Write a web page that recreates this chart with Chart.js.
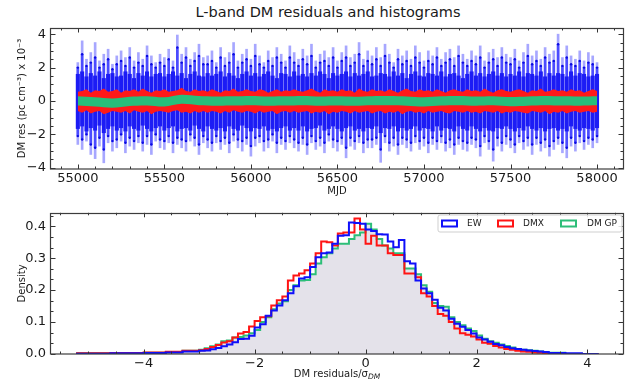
<!DOCTYPE html>
<html><head><meta charset="utf-8">
<script src="https://cdn.jsdelivr.net/npm/chart.js@4.4.0/dist/chart.umd.min.js"></script>
<style>
html,body{margin:0;padding:0;background:#fff;}
#wrap{position:relative;width:637px;height:385px;font-family:"DejaVu Sans",sans-serif;color:#1a1a1a;overflow:hidden;}
#c1{position:absolute;left:0;top:0;}
#c2{position:absolute;left:0;top:200px;}
#title{position:absolute;top:3px;left:328px;transform:translateX(-50%);font-size:14.5px;line-height:18px;white-space:nowrap;}
#xlab2{position:absolute;top:368px;left:337px;transform:translateX(-50%);font-size:10px;line-height:12px;white-space:nowrap;}
#xlab2 sub{font-size:7.5px;font-style:italic;vertical-align:-2px;line-height:0;}
</style></head>
<body><div id="wrap">
<div id="title">L-band DM residuals and histograms</div>
<canvas id="c1" width="637" height="200"></canvas>
<canvas id="c2" width="637" height="185"></canvas>
<div id="xlab2">DM residuals/σ<sub>DM</sub></div>
</div>
<script>
// ---------------- top panel data ----------------
const mjd = [55000,55025,55050,55075,55100,55125,55150,55175,55200,55225,
55250,55275,55300,55325,55350,55375,55400,55425,55450,55475,
55500,55525,55550,55575,55600,55625,55650,55675,55700,55725,
55750,55775,55800,55825,55850,55875,55900,55925,55950,55975,
56000,56025,56050,56075,56100,56125,56150,56175,56200,56225,
56250,56275,56300,56325,56350,56375,56400,56425,56450,56475,
56500,56525,56550,56575,56600,56625,56650,56675,56700,56725,
56750,56775,56800,56825,56850,56875,56900,56925,56950,56975,
57000,57025,57050,57075,57100,57125,57150,57175,57200,57225,
57250,57275,57300,57325,57350,57375,57400,57425,57450,57475,
57500,57525,57550,57575,57600,57625,57650,57675,57700,57725,
57750,57775,57800,57825,57850,57875,57900,57925,57950,57975,58000];
const errHi = [2.3,3.6,2.5,2.9,3.5,2.4,2.8,3.1,2.2,2.7,
3.0,2.6,3.2,2.4,2.9,2.5,3.3,2.7,2.3,2.8,
2.6,3.1,2.4,3.95,2.8,3.2,2.5,2.9,3.4,2.6,
2.7,3.0,2.3,3.2,2.6,2.9,3.5,2.4,2.8,3.1,
2.5,3.4,2.7,2.3,3.0,2.6,3.2,2.8,2.4,3.3,
2.9,2.5,3.1,2.7,3.4,2.4,2.8,3.0,2.6,3.2,
2.4,2.9,3.3,2.6,2.8,3.5,2.5,3.0,2.7,3.2,
2.6,3.4,2.8,2.3,3.1,2.7,3.0,2.5,3.3,2.9,
2.4,3.0,2.7,3.2,2.5,2.9,3.1,2.6,3.3,2.8,
2.5,3.0,2.7,3.3,2.4,2.9,3.1,2.6,3.2,2.8,
2.6,3.1,2.4,2.9,3.4,2.7,3.0,2.5,3.2,2.8,
3.0,4.0,2.6,3.3,2.7,2.5,3.0,2.4,2.9,2.7,2.3];
const errLo = [-2.6,-2.9,-2.4,-3.2,-3.45,-2.7,-3.7,-2.5,-3.0,-2.8,
-2.4,-3.1,-2.7,-2.9,-2.5,-3.0,-2.6,-3.2,-2.4,-2.8,
-2.9,-2.5,-3.1,-2.6,-2.8,-3.0,-2.4,-2.7,-3.2,-2.5,
-2.8,-3.0,-2.5,-2.9,-2.6,-3.1,-2.4,-2.8,-3.0,-2.6,
-3.3,-2.7,-2.5,-3.0,-2.8,-2.4,-3.1,-2.6,-2.9,-2.5,
-2.8,-3.0,-2.6,-3.2,-2.5,-2.9,-2.7,-3.1,-2.4,-2.8,
-3.0,-2.6,-3.4,-2.7,-2.9,-2.5,-3.1,-2.8,-2.8,-2.6,
-3.67,-2.5,-3.0,-2.7,-3.2,-2.6,-2.8,-3.0,-2.5,-2.9,
-2.7,-3.1,-2.6,-2.9,-2.5,-3.0,-2.8,-3.2,-2.6,-2.9,
-3.0,-2.6,-2.8,-3.3,-2.5,-2.9,-3.6,-2.7,-3.0,-2.6,
-2.8,-3.1,-2.5,-2.9,-2.7,-3.2,-2.6,-3.0,-2.8,-3.3,
-2.9,-2.6,-3.1,-3.4,-2.7,-3.0,-2.5,-2.9,-2.6,-2.8,-2.5];
const coreHi = [1.6,1.75,1.45,1.65,1.5,1.75,1.35,1.6,1.65,1.45,
1.5,1.75,1.6,1.35,1.65,1.5,1.75,1.45,1.6,1.65,
1.45,1.6,1.75,1.5,1.65,1.35,1.6,1.75,1.5,1.45,
1.65,1.5,1.6,1.75,1.45,1.65,1.5,1.35,1.6,1.75,
1.5,1.65,1.45,1.6,1.75,1.5,1.35,1.65,1.6,1.45,
1.75,1.5,1.6,1.45,1.65,1.5,1.75,1.6,1.35,1.65,
1.5,1.6,1.75,1.45,1.65,1.5,1.6,1.75,1.45,1.5,
1.65,1.6,1.45,1.75,1.5,1.65,1.35,1.6,1.75,1.5,
1.45,1.65,1.6,1.5,1.75,1.45,1.6,1.65,1.5,1.35,
1.6,1.75,1.5,1.65,1.45,1.6,1.75,1.5,1.65,1.45,
1.6,1.5,1.75,1.45,1.65,1.6,1.5,1.75,1.45,1.65,
1.5,1.65,1.6,1.45,1.75,1.5,1.65,1.6,1.45,1.5,1.6];
const coreLo = [-1.65,-1.5,-1.8,-1.6,-1.75,-1.45,-1.9,-1.65,-1.5,-1.75,
-1.6,-1.8,-1.5,-1.65,-1.75,-1.45,-1.65,-1.8,-1.6,-1.5,
-1.75,-1.6,-1.5,-1.8,-1.65,-1.6,-1.75,-1.45,-1.65,-1.8,
-1.5,-1.65,-1.75,-1.6,-1.8,-1.5,-1.65,-1.75,-1.45,-1.6,
-1.8,-1.6,-1.65,-1.5,-1.75,-1.65,-1.8,-1.6,-1.5,-1.75,
-1.6,-1.75,-1.5,-1.8,-1.65,-1.6,-1.45,-1.75,-1.65,-1.5,
-1.65,-1.8,-1.6,-1.5,-1.75,-1.65,-1.8,-1.6,-1.65,-1.5,
-1.9,-1.6,-1.65,-1.5,-1.8,-1.6,-1.75,-1.65,-1.5,-1.75,
-1.6,-1.65,-1.8,-1.5,-1.75,-1.6,-1.65,-1.8,-1.5,-1.65,
-1.75,-1.5,-1.65,-1.8,-1.6,-1.75,-1.8,-1.6,-1.65,-1.5,
-1.65,-1.8,-1.6,-1.75,-1.5,-1.65,-1.75,-1.6,-1.8,-1.65,
-1.6,-1.75,-1.65,-1.8,-1.5,-1.65,-1.75,-1.6,-1.65,-1.75,-1.6];
const dotHi = [2.0,2.8,2.1,2.3,2.6,2.0,2.2,2.5,1.9,2.2,
2.4,2.1,2.6,2.0,2.3,2.1,2.7,2.2,2.0,2.3,
2.1,2.5,2.0,3.2,2.3,2.6,2.1,2.4,2.7,2.2,
2.2,2.4,2.0,2.6,2.1,2.3,2.8,2.0,2.3,2.5,
2.1,2.7,2.2,2.0,2.4,2.1,2.6,2.3,2.0,2.6,
2.3,2.1,2.5,2.2,2.7,2.0,2.3,2.4,2.1,2.6,
2.0,2.4,2.6,2.1,2.3,2.8,2.1,2.4,2.2,2.5,
2.1,2.7,2.3,2.0,2.5,2.2,2.4,2.1,2.6,2.3,
2.0,2.4,2.2,2.6,2.1,2.3,2.5,2.1,2.7,2.3,
2.1,2.4,2.2,2.6,2.0,2.3,2.5,2.1,2.6,2.3,
2.2,2.5,2.0,2.3,2.7,2.2,2.4,2.1,2.6,2.3,
2.4,3.4,2.1,2.6,2.2,2.1,2.4,2.0,2.3,2.2,2.0];
const dotLo = [-2.1,-2.3,-2.0,-2.6,-2.8,-2.2,-2.9,-2.1,-2.4,-2.3,
-2.0,-2.5,-2.2,-2.4,-2.1,-2.5,-2.1,-2.6,-2.0,-2.3,
-2.4,-2.1,-2.5,-2.2,-2.3,-2.4,-2.0,-2.2,-2.6,-2.1,
-2.3,-2.5,-2.1,-2.4,-2.2,-2.5,-2.0,-2.3,-2.4,-2.2,
-2.7,-2.2,-2.1,-2.4,-2.3,-2.0,-2.5,-2.2,-2.4,-2.1,
-2.3,-2.5,-2.2,-2.6,-2.1,-2.4,-2.2,-2.5,-2.0,-2.3,
-2.4,-2.2,-2.8,-2.2,-2.4,-2.1,-2.5,-2.3,-2.3,-2.2,
-2.9,-2.1,-2.5,-2.2,-2.6,-2.2,-2.3,-2.5,-2.1,-2.4,
-2.2,-2.5,-2.2,-2.4,-2.1,-2.5,-2.3,-2.6,-2.2,-2.4,
-2.5,-2.2,-2.3,-2.7,-2.1,-2.4,-2.9,-2.2,-2.5,-2.1,
-2.3,-2.6,-2.1,-2.4,-2.2,-2.6,-2.2,-2.5,-2.3,-2.7,
-2.4,-2.2,-2.5,-2.8,-2.2,-2.5,-2.1,-2.4,-2.2,-2.3,-2.1];
const redHi = [0.55,0.6,0.7,0.5,0.65,0.6,0.75,0.55,0.6,0.7,
0.5,0.65,0.6,0.7,0.55,0.75,0.6,0.5,0.65,0.6,
0.7,0.55,0.6,0.65,0.8,0.6,0.55,0.7,0.6,0.65,
0.55,0.7,0.6,0.5,0.65,0.6,0.75,0.55,0.6,0.7,
0.6,0.55,0.7,0.65,0.5,0.6,0.7,0.55,0.65,0.6,
0.7,0.6,0.55,0.65,0.75,0.6,0.5,0.7,0.6,0.65,
0.55,0.7,0.6,0.65,0.5,0.75,0.6,0.55,0.7,0.6,
0.65,0.55,0.7,0.6,0.5,0.65,0.75,0.6,0.55,0.7,
0.6,0.65,0.55,0.7,0.6,0.5,0.65,0.7,0.6,0.55,
0.7,0.6,0.65,0.55,0.75,0.6,0.5,0.65,0.7,0.6,
0.55,0.65,0.7,0.6,0.5,0.65,0.6,0.75,0.55,0.6,
0.7,0.6,0.65,0.55,0.7,0.6,0.65,0.5,0.6,0.7,0.6];
const redLo = [-0.6,-0.7,-0.55,-0.75,-0.65,-0.6,-0.8,-0.7,-0.6,-0.65,
-0.7,-0.6,-0.75,-0.55,-0.65,-0.7,-0.6,-0.8,-0.65,-0.6,
-0.65,-0.7,-0.6,-0.55,-0.7,-0.65,-0.75,-0.6,-0.7,-0.6,
-0.7,-0.6,-0.65,-0.75,-0.6,-0.7,-0.55,-0.65,-0.7,-0.6,
-0.65,-0.75,-0.6,-0.7,-0.65,-0.6,-0.8,-0.65,-0.6,-0.7,
-0.6,-0.7,-0.65,-0.6,-0.75,-0.65,-0.7,-0.6,-0.8,-0.65,
-0.7,-0.6,-0.65,-0.75,-0.6,-0.7,-0.65,-0.6,-0.75,-0.65,
-0.6,-0.75,-0.65,-0.7,-0.6,-0.8,-0.65,-0.6,-0.7,-0.65,
-0.75,-0.6,-0.7,-0.65,-0.6,-0.7,-0.75,-0.6,-0.65,-0.7,
-0.6,-0.7,-0.65,-0.75,-0.6,-0.65,-0.7,-0.6,-0.75,-0.65,
-0.7,-0.6,-0.65,-0.7,-0.75,-0.6,-0.65,-0.7,-0.6,-0.8,
-0.65,-0.7,-0.6,-0.75,-0.65,-0.6,-0.7,-0.65,-0.6,-0.7,-0.65];
const greenMjd = [55000,55100,55200,55300,55400,55500,55600,55700,55800,55900,
56000,56100,56200,56300,56400,56500,56600,56700,56800,56900,
57000,57100,57200,57300,57400,57500,57600,57700,57800,57900,58000];
const greenHi = [0.28,0.22,0.15,0.25,0.28,0.22,0.38,0.30,0.27,0.28,
0.30,0.27,0.28,0.30,0.27,0.28,0.26,0.29,0.30,0.27,
0.22,0.28,0.30,0.27,0.29,0.24,0.27,0.30,0.28,0.27,0.29];
const greenLo = [-0.27,-0.33,-0.40,-0.30,-0.27,-0.33,-0.17,-0.25,-0.28,-0.27,
-0.25,-0.28,-0.27,-0.25,-0.28,-0.27,-0.29,-0.26,-0.25,-0.28,
-0.33,-0.27,-0.25,-0.28,-0.26,-0.31,-0.28,-0.25,-0.27,-0.28,-0.26];
const topXTicks = [55000,55500,56000,56500,57000,57500,58000];
const topYTicks = [-4,-2,0,2,4];

// ---------------- histogram data ----------------
const histEdges = [-5.2,-4.6,-4.0,-3.6,-3.3,
-3.0,-2.9,-2.8,-2.7,-2.6,-2.5,-2.4,-2.3,-2.2,-2.1,
-2.0,-1.9,-1.8,-1.7,-1.6,-1.5,-1.4,-1.3,-1.2,-1.1,
-1.0,-0.9,-0.8,-0.7,-0.6,-0.5,-0.4,-0.3,-0.2,-0.1,
0.0,0.1,0.2,0.3,0.4,0.5,0.6,0.7,0.8,0.9,
1.0,1.1,1.2,1.3,1.4,1.5,1.6,1.7,1.8,1.9,
2.0,2.1,2.2,2.3,2.4,2.5,2.6,2.7,2.8,2.9,
3.0,3.1,3.2,3.3,3.6,3.9,4.2];
const densEW = [0.001,0.001,0.002,0.003,0.005,
0.008,0.010,0.011,0.015,0.019,0.024,0.030,0.037,0.047,0.048,
0.057,0.083,0.093,0.120,0.136,0.152,0.168,0.190,0.212,0.236,
0.240,0.272,0.303,0.315,0.318,0.345,0.370,0.372,0.412,0.410,
0.408,0.390,0.385,0.375,0.374,0.352,0.334,0.357,0.290,0.283,
0.230,0.205,0.190,0.170,0.145,0.136,0.110,0.095,0.085,0.075,
0.064,0.052,0.045,0.038,0.031,0.027,0.022,0.018,0.016,0.013,
0.011,0.009,0.008,
0.006,0.003,0.002];
const densDMX = [0.001,0.002,0.003,0.005,0.007,
0.010,0.012,0.016,0.022,0.028,0.036,0.040,0.052,0.064,0.069,
0.086,0.103,0.115,0.118,0.152,0.168,0.180,0.230,0.246,0.252,
0.262,0.283,0.315,0.352,0.350,0.340,0.377,0.380,0.380,0.424,
0.390,0.345,0.370,0.340,0.340,0.315,0.310,0.310,0.252,0.252,
0.240,0.190,0.180,0.150,0.125,0.120,0.100,0.080,0.065,0.060,
0.055,0.045,0.035,0.032,0.025,0.020,0.016,0.013,0.010,0.008,
0.007,0.005,0.004,
0.003,0.001,0.000];
const densGP = [0.001,0.002,0.003,0.004,0.006,
0.010,0.013,0.018,0.024,0.030,0.040,0.042,0.052,0.053,0.058,
0.065,0.075,0.100,0.115,0.140,0.158,0.165,0.200,0.215,0.230,
0.232,0.250,0.283,0.303,0.315,0.330,0.345,0.345,0.360,0.372,
0.380,0.408,0.390,0.360,0.340,0.330,0.315,0.315,0.268,0.268,
0.250,0.215,0.195,0.160,0.150,0.148,0.115,0.100,0.090,0.080,
0.072,0.058,0.048,0.040,0.035,0.030,0.025,0.020,0.016,0.013,
0.012,0.010,0.008,
0.006,0.004,0.000];
const seriesNames = ['EW','DMX','DM GP'];
const histXTicks = [-4,-2,0,2,4];
const histYTicks = [0.0,0.1,0.2,0.3,0.4];

// ---------------- helpers ----------------
const FONT = "'DejaVu Sans', sans-serif";
const TXT = '#1a1a1a';
const minus = v => String(v).replace('-', '\u2212');
function stepPoints(edges, vals){
  const pts = [{x: edges[0], y: 0}];
  vals.forEach((v,i) => pts.push({x: edges[i], y: v}));
  pts.push({x: edges[edges.length-1], y: 0});
  return pts;
}
const inTicks = {
  id: 'inTicks',
  afterDraw(chart, args, o){
    const {ctx, chartArea: a} = chart;
    const xs = chart.scales.x, ys = chart.scales.y;
    ctx.save();
    ctx.strokeStyle = '#333'; ctx.lineWidth = 1;
    const seg = (x1,y1,x2,y2) => {ctx.beginPath();ctx.moveTo(x1,y1);ctx.lineTo(x2,y2);ctx.stroke();};
    const isMaj = (v, arr, st) => arr.some(t => Math.abs(t - v) < st * 0.01);
    for (let k = Math.ceil(xs.min / o.xMinor - 1e-6); k * o.xMinor <= xs.max + 1e-9; k++) {
      const v = k * o.xMinor;
      const len = isMaj(v, o.xMajor, o.xMinor) ? 4.5 : 2.5;
      const p = Math.round(xs.getPixelForValue(v)) + 0.5;
      seg(p, a.bottom, p, a.bottom - len); seg(p, a.top, p, a.top + len);
    }
    for (let k = Math.ceil(ys.min / o.yMinor - 1e-6); k * o.yMinor <= ys.max + 1e-9; k++) {
      const v = k * o.yMinor;
      const len = isMaj(v, o.yMajor, o.yMinor) ? 4.5 : 2.5;
      const p = Math.round(ys.getPixelForValue(v)) + 0.5;
      seg(a.left, p, a.left + len, p); seg(a.right, p, a.right - len, p);
    }
    ctx.strokeStyle = '#3c3c3c'; ctx.lineWidth = 1.2;
    ctx.strokeRect(Math.round(a.left) - 0.5, Math.round(a.top) + 0.5, Math.round(a.right - a.left) + 1, Math.round(a.bottom - a.top) - 0.5);
    ctx.restore();
  }
};
const boxLegend = {
  id: 'boxLegend',
  afterDraw(chart, args, o){
    if (!o || !o.items) return;
    const ctx = chart.ctx;
    ctx.save();
    const r = 2, x0 = o.x, y0 = o.y, w = o.w, h = o.h;
    ctx.beginPath();
    ctx.moveTo(x0 + r, y0); ctx.lineTo(x0 + w - r, y0); ctx.quadraticCurveTo(x0 + w, y0, x0 + w, y0 + r);
    ctx.lineTo(x0 + w, y0 + h - r); ctx.quadraticCurveTo(x0 + w, y0 + h, x0 + w - r, y0 + h);
    ctx.lineTo(x0 + r, y0 + h); ctx.quadraticCurveTo(x0, y0 + h, x0, y0 + h - r);
    ctx.lineTo(x0, y0 + r); ctx.quadraticCurveTo(x0, y0, x0 + r, y0); ctx.closePath();
    ctx.fillStyle = 'rgba(255,255,255,0.85)'; ctx.fill();
    ctx.strokeStyle = '#cfcfcf'; ctx.lineWidth = 1; ctx.stroke();
    ctx.font = '9px ' + FONT; ctx.textBaseline = 'middle'; ctx.textAlign = 'left';
    o.items.forEach(it => {
      const ds = chart.data.datasets[it.ds];
      ctx.strokeStyle = ds.borderColor; ctx.lineWidth = 2;
      ctx.strokeRect(it.bx, y0 + h / 2 - 3, 15, 6);
      ctx.fillStyle = TXT;
      ctx.fillText(ds.label, it.tx, y0 + h / 2 + 0.5);
    });
    ctx.restore();
  }
};
function xAxis(min, max, ticksArr, fmt, title){
  return {
    type: 'linear', min, max, offset: false,
    grid: {display: false, drawTicks: false, offset: false}, border: {display: false},
    ticks: {font: {family: FONT, size: 13}, color: TXT, padding: 2, maxRotation: 0, autoSkip: false, callback: fmt},
    afterBuildTicks: s => { s.ticks = ticksArr.map(v => ({value: v})); },
    afterFit: s => { s.height = 31; },
    title: title ? {display: true, text: title, font: {family: FONT, size: 10}, color: TXT, padding: {top: 0, bottom: 3}} : {display: false}
  };
}
function yAxis(min, max, ticksArr, fmt, title){
  return {
    type: 'linear', min, max,
    grid: {display: false, drawTicks: false}, border: {display: false},
    ticks: {font: {family: FONT, size: 13}, color: TXT, padding: 5, autoSkip: false, callback: fmt},
    afterBuildTicks: s => { s.ticks = ticksArr.map(v => ({value: v})); },
    afterFit: s => { s.width = 51; },
    title: {display: true, text: title, font: {family: FONT, size: 10}, color: TXT, padding: {top: 16, bottom: 0}}
  };
}
const noBorder = 'rgba(0,0,0,0)';
const GREEN = 'rgb(40,190,122)';

// ---------------- top chart ----------------
const dots = [];
mjd.forEach((m, i) => { dots.push({x: m, y: dotHi[i]}); dots.push({x: m, y: dotLo[i]}); });
const barDs = (lo, hi, color, thick) => ({type: 'bar', data: mjd.map((m,i) => ({x: m, y: [lo[i], hi[i]]})), backgroundColor: color, borderWidth: 0, barThickness: thick, grouped: false});
new Chart(document.getElementById('c1'), {
  type: 'scatter',
  data: {datasets: [
    {type: 'line', data: greenMjd.map((m,i) => ({x: m, y: greenHi[i]})), fill: '+1', backgroundColor: GREEN, borderColor: noBorder, borderWidth: 0, pointRadius: 0, tension: 0.3},
    {type: 'line', data: greenMjd.map((m,i) => ({x: m, y: greenLo[i]})), fill: false, borderColor: noBorder, borderWidth: 0, pointRadius: 0, tension: 0.3},
    {type: 'line', data: mjd.map((m,i) => ({x: m, y: redHi[i]})), fill: '+1', backgroundColor: 'rgb(255,25,25)', borderColor: noBorder, borderWidth: 0, pointRadius: 0},
    {type: 'line', data: mjd.map((m,i) => ({x: m, y: redLo[i]})), fill: false, borderColor: noBorder, borderWidth: 0, pointRadius: 0},
    {type: 'scatter', data: dots, pointRadius: 1.2, backgroundColor: 'rgb(10,10,225)', borderWidth: 0},
    barDs(coreLo, coreHi, 'rgb(28,28,245)', 3.4),
    barDs(dotLo, dotHi, 'rgba(35,35,255,0.7)', 2),
    barDs(errLo, errHi, 'rgba(60,60,255,0.45)', 2)
  ]},
  options: {
    responsive: false, animation: false, devicePixelRatio: 1,
    layout: {padding: {top: 28, right: 14, left: 0, bottom: 0}},
    plugins: {legend: {display: false}, tooltip: {enabled: false},
      inTicks: {xMajor: topXTicks, xMinor: 100, yMajor: topYTicks, yMinor: 0.5}},
    scales: {
      x: xAxis(54845, 58150, topXTicks, v => String(v), 'MJD'),
      y: yAxis(-4.07, 4.37, topYTicks, v => minus(v), 'DM res (pc cm\u207B\u00B3) x 10\u207B\u00B3')
    }
  },
  plugins: [inTicks]
});

// ---------------- histogram chart ----------------
new Chart(document.getElementById('c2'), {
  type: 'line',
  data: {datasets: [
    {label: seriesNames[0], data: stepPoints(histEdges, densEW), stepped: 'after', borderColor: 'rgb(15,15,250)', borderWidth: 2, pointRadius: 0, fill: false},
    {label: seriesNames[1], data: stepPoints(histEdges, densDMX), stepped: 'after', borderColor: 'rgb(255,20,20)', borderWidth: 2, pointRadius: 0, fill: false},
    {label: seriesNames[2], data: stepPoints(histEdges, densGP), stepped: 'after', borderColor: 'rgb(45,190,120)', borderWidth: 2, pointRadius: 0, fill: 'origin', backgroundColor: 'rgb(228,226,234)'}
  ]},
  options: {
    responsive: false, animation: false, devicePixelRatio: 1,
    layout: {padding: {top: 12, right: 14, left: 0, bottom: 0}},
    plugins: {legend: {display: false}, tooltip: {enabled: false},
      filler: {drawTime: 'beforeDatasetsDraw'},
      inTicks: {xMajor: histXTicks, xMinor: 0.5, yMajor: histYTicks, yMinor: 0.1 / 3},
      boxLegend: {x: 438, y: 15, w: 184, h: 17, items: [{ds: 0, bx: 442, tx: 467}, {ds: 1, bx: 498, tx: 523}, {ds: 2, bx: 561, tx: 587}]}},
    scales: {
      x: xAxis(-5.67, 4.64, histXTicks, v => minus(v), null),
      y: yAxis(0, 0.442, histYTicks, v => Number(v).toFixed(1), 'Density')
    }
  },
  plugins: [inTicks, boxLegend]
});
</script>
</body></html>
